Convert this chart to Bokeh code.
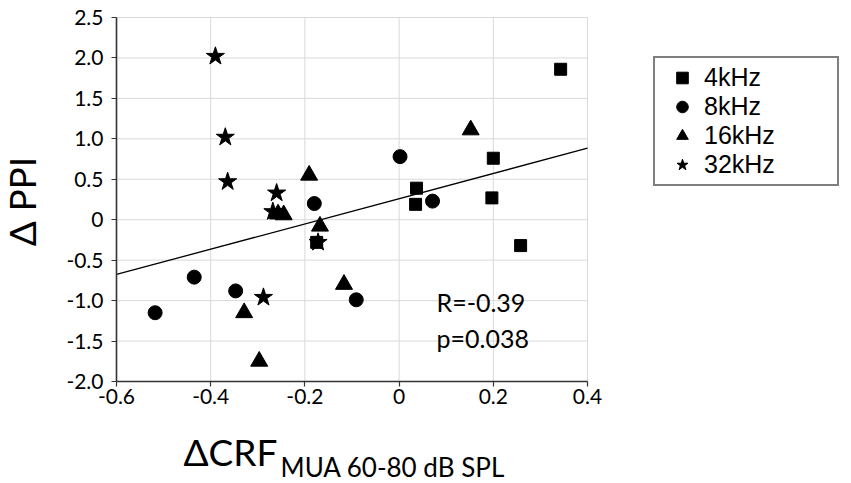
import math
from bokeh.plotting import figure
from bokeh.models import Range1d, FixedTicker, Label, Legend, LegendItem
from bokeh.embed import file_html
from bokeh.resources import INLINE

# ---- data ----
x_4k = [0.343, 0.200, 0.037, 0.035, 0.197, 0.258, -0.175]
y_4k = [1.86, 0.76, 0.39, 0.19, 0.27, -0.32, -0.28]

x_8k = [0.002, 0.071, -0.180, -0.435, -0.347, -0.091, -0.518]
y_8k = [0.78, 0.23, 0.20, -0.71, -0.88, -0.99, -1.15]

x_16k = [0.152, -0.191, -0.257, -0.245, -0.168, -0.117, -0.329, -0.297]
y_16k = [1.11, 0.55, 0.07, 0.06, -0.08, -0.80, -1.15, -1.75]

x_32k = [-0.390, -0.369, -0.364, -0.260, -0.268, -0.172, -0.288]
y_32k = [2.02, 1.02, 0.47, 0.33, 0.10, -0.28, -0.96]

fit_slope = 1.56
fit_intercept = 0.26

x_ticks = [-0.6, -0.4, -0.2, 0.0, 0.2, 0.4]
x_tick_labels = ["-0.6", "-0.4", "-0.2", "0", "0.2", "0.4"]
y_ticks = [-2.0, -1.5, -1.0, -0.5, 0.0, 0.5, 1.0, 1.5, 2.0, 2.5]
y_tick_labels = ["-2.0", "-1.5", "-1.0", "-0.5", "0", "0.5", "1.0", "1.5", "2.0", "2.5"]

series_labels = ["4kHz", "8kHz", "16kHz", "32kHz"]
stat_r = "R=-0.39"
stat_p = "p=0.038"
y_title = "\u0394 PPI"
x_title = "\u0394CRF"
x_title_sub = "MUA 60-80 dB SPL"

# ---- layout geometry (pixels) ----
W, H = 851, 483
box_left, box_right, box_top, box_bottom = 116, 587, 17, 381

x_per_px = (x_ticks[-1] - x_ticks[0]) / (box_right - box_left)
y_per_px = (y_ticks[-1] - y_ticks[0]) / (box_bottom - box_top)
x_start = x_ticks[0] - box_left * x_per_px
x_end = x_start + W * x_per_px
y_end = y_ticks[-1] + box_top * y_per_px
y_start = y_end - H * y_per_px


def dx(px):
    return x_start + px * x_per_px


def dy(py):
    return y_end - py * y_per_px


p = figure(width=W, height=H, output_backend="svg", toolbar_location=None,
           x_range=Range1d(x_start, x_end), y_range=Range1d(y_start, y_end),
           min_border=0, min_border_left=0, min_border_right=0,
           min_border_top=0, min_border_bottom=0)
p.background_fill_color = "white"
p.border_fill_color = "white"
p.outline_line_color = None
p.xgrid.visible = False
p.ygrid.visible = False

# grid lines limited to the axis box
grid_color = "#d9d9d9"
p.segment(x0=x_ticks, y0=[y_ticks[0]] * len(x_ticks),
          x1=x_ticks, y1=[y_ticks[-1]] * len(x_ticks),
          line_color=grid_color, line_width=1)
p.segment(x0=[x_ticks[0]] * len(y_ticks), y0=y_ticks,
          x1=[x_ticks[-1]] * len(y_ticks), y1=y_ticks,
          line_color=grid_color, line_width=1)

# axes pinned to the box edges
p.xaxis.fixed_location = y_ticks[0]
p.xaxis.bounds = (x_ticks[0], x_ticks[-1])
p.yaxis.fixed_location = x_ticks[0]
p.yaxis.bounds = (y_ticks[0], y_ticks[-1])
p.xaxis.ticker = FixedTicker(ticks=x_ticks)
p.xaxis.major_label_overrides = {t: s for t, s in zip(x_ticks, x_tick_labels)}
p.yaxis.ticker = FixedTicker(ticks=y_ticks)
p.yaxis.major_label_overrides = {t: s for t, s in zip(y_ticks, y_tick_labels)}

for ax in (p.xaxis, p.yaxis):
    ax.axis_line_color = "#333333"
    ax.axis_line_width = 1.6
    ax.major_tick_line_color = "#333333"
    ax.major_tick_line_width = 1.2
    ax.major_tick_out = 5
    ax.major_tick_in = 0
    ax.minor_tick_line_color = None
    ax.major_label_text_font = "Lato"
    ax.major_label_text_font_size = "21px"
    ax.major_label_text_color = "black"
    ax.axis_label = None
p.yaxis.major_label_standoff = 8
p.xaxis.major_label_standoff = 2

# regression line across the axis box
fit_x = [x_ticks[0], x_ticks[-1]]
fit_y = [fit_slope * v + fit_intercept for v in fit_x]
p.line(fit_x, fit_y, line_color="black", line_width=1.3)

r4 = p.scatter(x_4k, y_4k, marker="square", size=12, color="black")
r8 = p.scatter(x_8k, y_8k, marker="circle", size=14, color="black")
r16 = p.scatter(x_16k, y_16k, marker="triangle", size=17, color="black")
r32 = p.scatter(x_32k, y_32k, marker="star", size=19, color="black")

legend = Legend(items=[LegendItem(label=series_labels[0], renderers=[r4]),
                       LegendItem(label=series_labels[1], renderers=[r8]),
                       LegendItem(label=series_labels[2], renderers=[r16]),
                       LegendItem(label=series_labels[3], renderers=[r32])],
                location=(653, H - 186), margin=0, padding=5, spacing=0,
                glyph_width=44, glyph_height=29, label_height=29,
                label_width=128, label_standoff=0,
                label_text_font="Liberation Sans", label_text_font_size="25px",
                label_text_color="black", label_text_baseline="middle",
                border_line_color="black", border_line_width=2,
                background_fill_color="white", background_fill_alpha=1.0)
p.add_layout(legend)

# statistics text
p.add_layout(Label(x=dx(436), y=dy(301), text=stat_r, text_font="Lato",
                   text_font_size="25px", text_color="black",
                   text_baseline="alphabetic"))
p.add_layout(Label(x=dx(436), y=dy(337), text=stat_p, text_font="Lato",
                   text_font_size="25px", text_color="black",
                   text_baseline="alphabetic"))

# axis titles
p.add_layout(Label(x=dx(21), y=dy(201), text=y_title, angle=math.pi / 2,
                   text_font="Lato", text_font_size="37px", text_color="black",
                   text_align="center", text_baseline="middle"))
p.add_layout(Label(x=dx(183), y=dy(451), text=x_title, text_font="Lato",
                   text_font_size="37px", text_color="black",
                   text_baseline="alphabetic"))
p.add_layout(Label(x=dx(280), y=dy(466), text=x_title_sub, text_font="Lato",
                   text_font_size="26px", text_color="black",
                   text_baseline="alphabetic"))

open("out.html", "w").write(file_html(p, INLINE))
